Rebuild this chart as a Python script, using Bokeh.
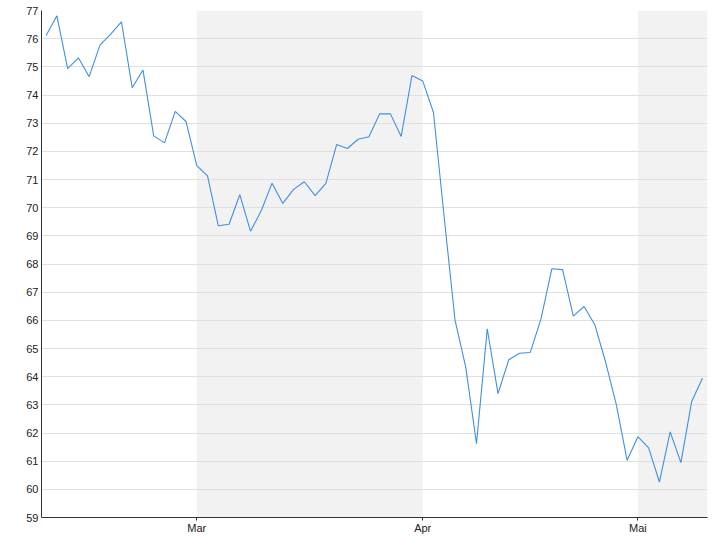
from bokeh.plotting import figure
from bokeh.models import Range1d, FixedTicker, BoxAnnotation, SingleIntervalTicker
from bokeh.embed import file_html
from bokeh.resources import INLINE

# Closing prices per trading day (index = trading day)
prices = [
    76.11, 76.81, 74.94, 75.32, 74.65, 75.77, 76.16, 76.60, 74.26, 74.89,
    72.55, 72.30, 73.42, 73.06, 71.49, 71.13, 69.36, 69.41, 70.46, 69.16,
    69.90, 70.87, 70.15, 70.65, 70.92, 70.43, 70.86, 72.24, 72.10, 72.43,
    72.52, 73.33, 73.33, 72.53, 74.69, 74.50, 73.38, 69.65, 66.02, 64.34,
    61.62, 65.70, 63.40, 64.60, 64.83, 64.86, 66.06, 67.83, 67.80, 66.15,
    66.49, 65.84, 64.52, 63.00, 61.03, 61.87, 61.47, 60.26, 62.04, 60.95,
    63.12, 63.94,
]
days = list(range(len(prices)))

# first trading day of each month (index) and its label
month_starts = [14, 35, 55]
month_labels = ["Mar", "Apr", "Mai"]

y_min, y_max = 59, 77

p = figure(width=712, height=538, output_backend="svg", toolbar_location=None,
           x_range=Range1d(-0.43, len(prices) - 0.53), y_range=Range1d(y_min, y_max),
           min_border_left=41, min_border_right=5, min_border_top=10, min_border_bottom=21)
p.outline_line_color = None
p.background_fill_color = "white"

# shaded alternating month bands
p.add_layout(BoxAnnotation(left=month_starts[0], right=month_starts[1], fill_color="#f2f2f2",
                           fill_alpha=1, line_color=None, level="image"))
p.add_layout(BoxAnnotation(left=month_starts[2], fill_color="#f2f2f2",
                           fill_alpha=1, line_color=None, level="image"))

p.line(days, prices, line_color="#3f8fe3", line_width=1.1)

# axes
p.xaxis.ticker = FixedTicker(ticks=month_starts)
p.xaxis.major_label_overrides = {m: l for m, l in zip(month_starts, month_labels)}
p.xaxis.minor_tick_line_color = None
p.xaxis.major_tick_out = 3
p.xaxis.major_tick_in = 0
p.xaxis.major_label_standoff = 1
p.yaxis.ticker = SingleIntervalTicker(interval=1, num_minor_ticks=0)
p.yaxis.major_tick_out = 0
p.yaxis.major_tick_in = 0
p.yaxis.minor_tick_line_color = None
p.yaxis.major_label_standoff = 3
for ax in (p.xaxis, p.yaxis):
    ax.axis_line_color = "#333333"
    ax.major_tick_line_color = "#333333"
    ax.major_label_text_font = "Liberation Sans"
    ax.major_label_text_font_size = "11px"
    ax.major_label_text_color = "#222222"

p.xgrid.grid_line_color = None
p.ygrid.grid_line_color = "#e0e0e0"
p.ygrid.grid_line_width = 1

open("out.html", "w").write(file_html(p, INLINE))
